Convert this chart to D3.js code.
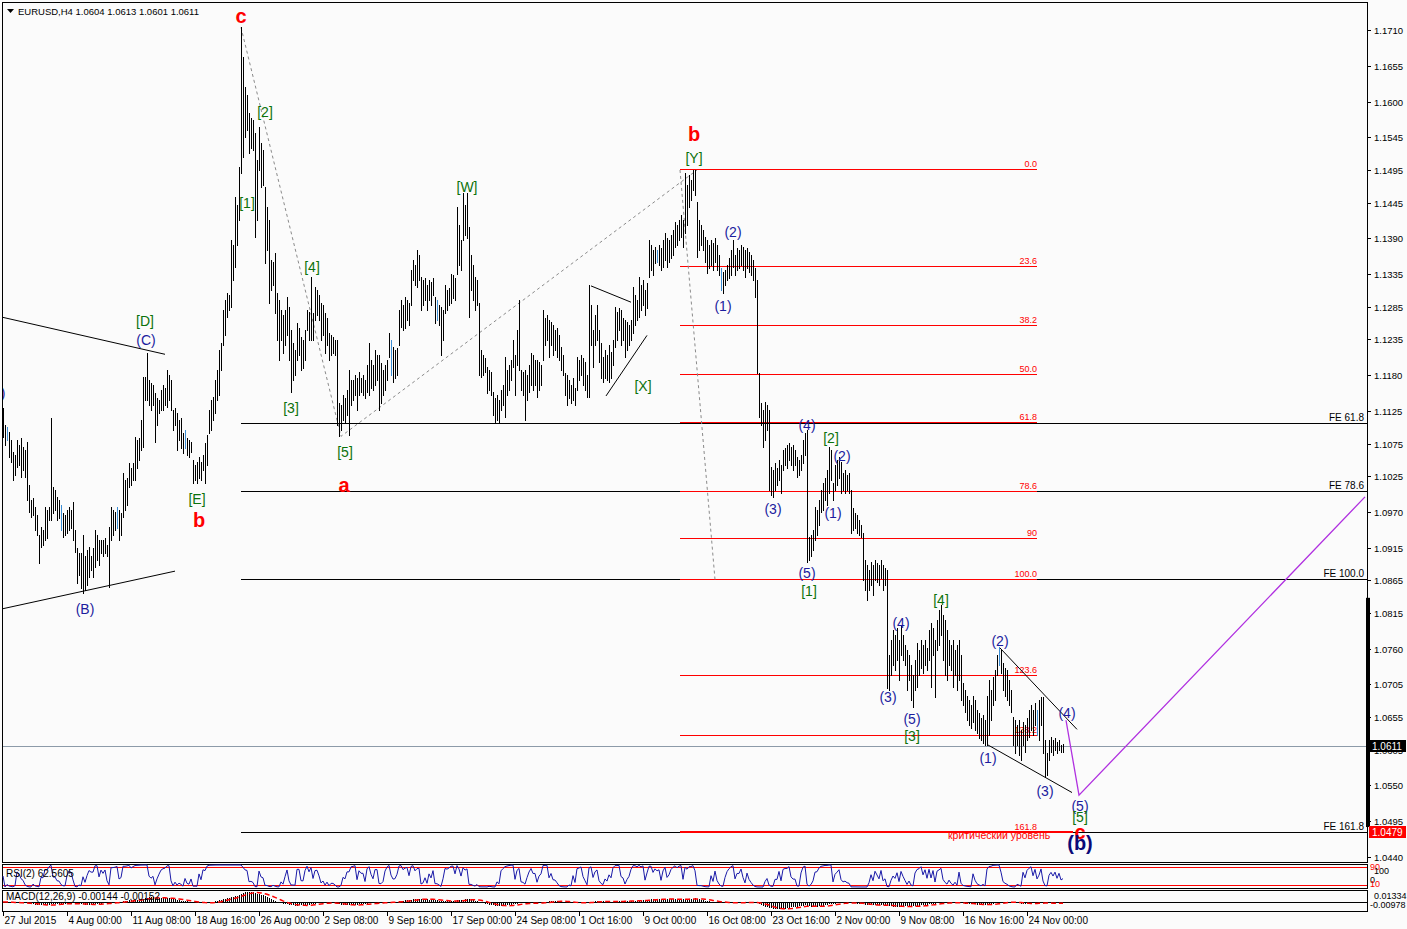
<!DOCTYPE html>
<html><head><meta charset="utf-8"><title>EURUSD H4</title>
<script src="https://cdn.jsdelivr.net/npm/d3@7/dist/d3.min.js"></script>
<style>
html,body{margin:0;padding:0;background:#fbfbfb;}
svg{display:block;}
text{font-family:"Liberation Sans",Arial,sans-serif;}
</style></head><body>
<svg id="chart" width="1407" height="929"></svg>
<script>
// ---------- DATA ----------
const highs = [
1.1129,1.1103,1.1100,1.1092,1.1080,1.1062,1.1057,1.1080,1.1073,1.1083,
1.1069,1.1065,1.1077,1.1011,1.0988,1.0991,1.0977,1.0965,1.0934,1.0947,
1.0942,1.0977,1.0973,1.0977,1.1114,1.1008,1.1003,1.0993,1.0988,1.0980,
1.0968,1.0965,1.0973,1.0977,1.0973,1.0985,1.0942,1.0914,1.0907,1.0907,
1.0934,1.0903,1.0911,1.0916,1.0903,1.0914,1.0942,1.0934,1.0927,1.0927,
1.0927,1.0930,1.0919,1.0947,1.0977,1.0973,1.0970,1.0977,1.0973,1.0968,
1.1029,1.1019,1.1022,1.1045,1.1037,1.1045,1.1085,1.1080,1.1083,1.1111,
1.1177,1.1177,1.1214,1.1172,1.1168,1.1165,1.1152,1.1145,1.1142,1.1157,
1.1165,1.1160,1.1188,1.1180,1.1172,1.1126,1.1129,1.1122,1.1111,1.1114,
1.1091,1.1096,1.1083,1.1080,1.1077,1.1049,1.1042,1.1046,1.1054,1.1046,
1.1057,1.1076,1.1088,1.1126,1.1142,1.1146,1.1172,1.1188,1.1218,1.1229,
1.1280,1.1295,1.1306,1.1303,1.1387,1.1380,1.1453,1.1441,1.1499,1.1714,
1.1668,1.1622,1.1610,1.1582,1.1575,1.1572,1.1552,1.1510,1.1561,1.1536,
1.1526,1.1469,1.1438,1.1418,1.1357,1.1354,1.1367,1.1306,1.1295,1.1280,
1.1272,1.1280,1.1300,1.1284,1.1249,1.1229,1.1218,1.1260,1.1252,1.1238,
1.1234,1.1249,1.1280,1.1277,1.1331,1.1275,1.1315,1.1311,1.1303,1.1291,
1.1288,1.1275,1.1268,1.1245,1.1241,1.1238,1.1234,1.1234,1.1137,1.1134,
1.1149,1.1145,1.1157,1.1188,1.1172,1.1172,1.1180,1.1175,1.1185,1.1175,
1.1180,1.1172,1.1195,1.1229,1.1203,1.1195,1.1218,1.1211,1.1211,1.1198,
1.1188,1.1195,1.1203,1.1245,1.1234,1.1223,1.1218,1.1221,1.1280,1.1295,
1.1288,1.1300,1.1295,1.1291,1.1341,1.1357,1.1349,1.1372,1.1364,1.1331,
1.1326,1.1329,1.1318,1.1326,1.1323,1.1329,1.1300,1.1295,1.1288,1.1284,
1.1280,1.1318,1.1311,1.1314,1.1336,1.1334,1.1329,1.1438,1.1410,1.1387,
1.1460,1.1441,1.1460,1.1407,1.1364,1.1349,1.1331,1.1326,1.1291,1.1218,
1.1211,1.1206,1.1192,1.1188,1.1185,1.1154,1.1145,1.1149,1.1142,1.1157,
1.1165,1.1208,1.1188,1.1195,1.1203,1.1234,1.1211,1.1249,1.1295,1.1188,
1.1185,1.1188,1.1180,1.1195,1.1214,1.1211,1.1203,1.1203,1.1200,1.1195,
1.1280,1.1268,1.1272,1.1264,1.1261,1.1257,1.1249,1.1252,1.1241,1.1223,
1.1211,1.1183,1.1180,1.1172,1.1165,1.1175,1.1160,1.1208,1.1203,1.1211,
1.1206,1.1200,1.1180,1.1318,1.1288,1.1249,1.1272,1.1288,1.1249,1.1229,
1.1208,1.1218,1.1211,1.1226,1.1215,1.1234,1.1284,1.1277,1.1283,1.1280,
1.1268,1.1264,1.1261,1.1257,1.1264,1.1315,1.1303,1.1295,1.1331,1.1318,
1.1326,1.1311,1.1321,1.1387,1.1380,1.1372,1.1377,1.1372,1.1380,1.1375,
1.1387,1.1398,1.1390,1.1387,1.1395,1.1403,1.1415,1.1410,1.1418,1.1426,
1.1418,1.1490,1.1472,1.1487,1.1480,1.1495,1.1495,1.1446,1.1418,1.1410,
1.1403,1.1392,1.1387,1.1380,1.1387,1.1383,1.1390,1.1380,1.1364,1.1344,
1.1338,1.1341,1.1349,1.1360,1.1372,1.1387,1.1364,1.1375,1.1372,1.1380,
1.1377,1.1372,1.1375,1.1369,1.1364,1.1357,1.1344,1.1326,1.1183,1.1137,
1.1126,1.1139,1.1134,1.1126,1.1039,1.1034,1.1045,1.1037,1.1049,1.1042,
1.1065,1.1068,1.1073,1.1076,1.1069,1.1073,1.1065,1.1054,1.1049,1.1057,
1.1080,1.1091,1.1096,1.0931,1.0934,1.0942,1.0977,1.0973,1.0988,1.1003,
1.1014,1.1022,1.1034,1.1069,1.1065,1.1014,1.1042,1.1049,1.1054,1.1046,
1.1029,1.1034,1.1026,1.1029,1.1003,1.0976,1.0968,1.0965,1.0957,1.0950,
1.0937,1.0896,1.0888,1.0881,1.0893,1.0888,1.0896,1.0891,1.0888,1.0896,
1.0888,1.0884,1.0881,1.0750,1.0773,1.0788,1.0781,1.0791,1.0773,1.0796,
1.0781,1.0765,1.0758,1.0750,1.0735,1.0719,1.0742,1.0768,1.0758,1.0773,
1.0765,1.0773,1.0761,1.0788,1.0799,1.0791,1.0773,1.0804,1.0819,1.0827,
1.0811,1.0804,1.0788,1.0773,1.0765,1.0773,1.0758,1.0765,1.0773,1.0750,
1.0707,1.0696,1.0688,1.0681,1.0673,1.0688,1.0681,1.0665,1.0661,1.0653,
1.0658,1.0650,1.0688,1.0712,1.0696,1.0716,1.0727,1.0750,1.0762,1.0758,
1.0738,1.0730,1.0727,1.0712,1.0696,1.0655,1.0650,1.0642,1.0650,1.0635,
1.0647,1.0642,1.0653,1.0665,1.0673,1.0665,1.0676,1.0665,1.0681,1.0685,
1.0685,1.0619,1.0599,1.0619,1.0624,1.0619,1.0622,1.0616,1.0619,1.0612,
1.0613];
const lows = [
1.1085,1.1072,1.1080,1.1054,1.1046,1.1019,1.1026,1.1039,1.1042,1.1023,
1.1034,1.1023,1.0988,1.0970,1.0962,1.0965,1.0942,1.0934,1.0891,1.0916,
1.0919,1.0927,1.0930,1.0957,1.0957,1.0968,1.0973,1.0957,1.0960,1.0942,
1.0931,1.0934,1.0937,1.0942,1.0945,1.0927,1.0908,1.0861,1.0873,1.0853,
1.0845,1.0850,1.0857,1.0870,1.0881,1.0870,1.0885,1.0896,1.0888,1.0907,
1.0903,1.0907,1.0903,1.0854,1.0927,1.0934,1.0942,1.0945,1.0927,1.0934,
1.0962,1.0973,1.0980,1.1008,1.1011,1.1019,1.1019,1.1037,1.1049,1.1065,
1.1069,1.1142,1.1142,1.1134,1.1126,1.1134,1.1077,1.1103,1.1122,1.1126,
1.1126,1.1134,1.1131,1.1142,1.1126,1.1096,1.1103,1.1065,1.1080,1.1068,
1.1060,1.1068,1.1057,1.1054,1.1062,1.1014,1.1019,1.1014,1.1022,1.1019,
1.1034,1.1014,1.1042,1.1091,1.1096,1.1111,1.1122,1.1142,1.1149,1.1188,
1.1226,1.1241,1.1269,1.1280,1.1284,1.1326,1.1346,1.1380,1.1418,1.1490,
1.1515,1.1546,1.1556,1.1521,1.1529,1.1526,1.1392,1.1418,1.1495,1.1469,
1.1472,1.1352,1.1372,1.1291,1.1311,1.1318,1.1275,1.1234,1.1203,1.1234,
1.1214,1.1226,1.1241,1.1203,1.1154,1.1172,1.1180,1.1203,1.1211,1.1188,
1.1191,1.1203,1.1249,1.1234,1.1234,1.1234,1.1264,1.1272,1.1264,1.1234,
1.1241,1.1214,1.1226,1.1203,1.1211,1.1214,1.1211,1.1103,1.1086,1.1096,
1.1111,1.1108,1.1119,1.1088,1.1134,1.1142,1.1149,1.1126,1.1149,1.1154,
1.1149,1.1145,1.1154,1.1149,1.1160,1.1157,1.1165,1.1172,1.1126,1.1137,
1.1149,1.1157,1.1172,1.1208,1.1180,1.1169,1.1175,1.1180,1.1226,1.1254,
1.1249,1.1252,1.1264,1.1257,1.1288,1.1326,1.1318,1.1315,1.1326,1.1280,
1.1288,1.1295,1.1280,1.1295,1.1288,1.1303,1.1260,1.1264,1.1257,1.1211,
1.1234,1.1275,1.1280,1.1288,1.1291,1.1298,1.1295,1.1336,1.1349,1.1341,
1.1387,1.1395,1.1390,1.1269,1.1311,1.1295,1.1280,1.1288,1.1180,1.1177,
1.1180,1.1185,1.1152,1.1157,1.1149,1.1119,1.1106,1.1111,1.1106,1.1126,
1.1134,1.1116,1.1149,1.1157,1.1172,1.1192,1.1149,1.1195,1.1188,1.1157,
1.1149,1.1111,1.1142,1.1154,1.1165,1.1157,1.1165,1.1146,1.1157,1.1165,
1.1203,1.1226,1.1234,1.1208,1.1226,1.1211,1.1218,1.1208,1.1203,1.1188,
1.1180,1.1149,1.1134,1.1145,1.1137,1.1142,1.1134,1.1157,1.1172,1.1180,
1.1165,1.1157,1.1146,1.1146,1.1226,1.1192,1.1226,1.1234,1.1200,1.1175,
1.1169,1.1175,1.1172,1.1169,1.1175,1.1195,1.1223,1.1234,1.1249,1.1226,
1.1234,1.1208,1.1218,1.1226,1.1234,1.1245,1.1257,1.1264,1.1269,1.1280,
1.1288,1.1272,1.1283,1.1331,1.1341,1.1334,1.1352,1.1354,1.1349,1.1341,
1.1346,1.1357,1.1346,1.1354,1.1360,1.1364,1.1377,1.1380,1.1387,1.1392,
1.1377,1.1398,1.1410,1.1438,1.1449,1.1464,1.1456,1.1361,1.1372,1.1380,
1.1372,1.1354,1.1337,1.1344,1.1349,1.1341,1.1354,1.1341,1.1334,1.1311,
1.1306,1.1318,1.1326,1.1329,1.1334,1.1346,1.1334,1.1341,1.1344,1.1349,
1.1341,1.1331,1.1344,1.1338,1.1334,1.1326,1.1300,1.1183,1.1115,1.1103,
1.1069,1.1080,1.1096,1.1003,1.0996,1.0993,1.1003,1.1011,1.1019,1.0999,
1.1034,1.1042,1.1037,1.1049,1.1042,1.1034,1.1042,1.1023,1.1026,1.1034,
1.1045,1.1057,1.0893,1.0896,1.0903,1.0911,1.0927,1.0934,1.0950,1.0970,
1.0973,1.0988,1.0980,1.0999,1.1019,1.0988,1.1003,1.1011,1.1022,1.0999,
1.1003,1.0999,1.1003,1.0999,1.0937,1.0942,1.0945,1.0937,1.0934,1.0931,
1.0865,1.0850,1.0834,1.0850,1.0857,1.0842,1.0865,1.0862,1.0857,1.0868,
1.0850,1.0857,1.0699,1.0696,1.0719,1.0735,1.0727,1.0742,1.0712,1.0750,
1.0742,1.0735,1.0696,1.0712,1.0681,1.0670,1.0696,1.0701,1.0719,1.0730,
1.0722,1.0735,1.0727,1.0742,1.0701,1.0750,1.0685,1.0758,1.0765,1.0781,
1.0742,1.0719,1.0712,1.0735,1.0727,1.0701,1.0719,1.0696,1.0712,1.0681,
1.0673,1.0662,1.0650,1.0642,1.0638,1.0647,1.0635,1.0630,1.0622,1.0619,
1.0615,1.0612,1.0612,1.0627,1.0650,1.0673,1.0681,1.0719,1.0735,1.0722,
1.0696,1.0688,1.0681,1.0673,1.0662,1.0612,1.0599,1.0612,1.0596,1.0589,
1.0612,1.0601,1.0619,1.0624,1.0635,1.0627,1.0642,1.0627,1.0620,1.0642,
1.0599,1.0563,1.0566,1.0589,1.0601,1.0596,1.0604,1.0599,1.0604,1.0601,
1.0601];
const blueBars = [2,29,57,91,194,217,327,359,498,517];

const timeLabels = ["27 Jul 2015","4 Aug 00:00","11 Aug 08:00","18 Aug 16:00","26 Aug 00:00","2 Sep 08:00","9 Sep 16:00","17 Sep 00:00","24 Sep 08:00","1 Oct 16:00","9 Oct 00:00","16 Oct 08:00","23 Oct 16:00","2 Nov 00:00","9 Nov 08:00","16 Nov 16:00","24 Nov 00:00"];
const timeLabelBars = [0,32,64,96,128,160,192,224,256,288,320,352,384,416,448,480,512];
const priceTicks = [1.1710,1.1655,1.1600,1.1545,1.1495,1.1445,1.1390,1.1335,1.1285,1.1235,1.1180,1.1125,1.1075,1.1025,1.0970,1.0915,1.0865,1.0815,1.0760,1.0705,1.0655,1.0605,1.0550,1.0495,1.0440];

const header = "EURUSD,H4  1.0604 1.0613 1.0601 1.0611";
const lastPrice = 1.0611;
const criticalPrice = 1.0479;
const criticalText = "критический уровень";

// Fibonacci retracement: anchors [bar, price]
const fibAnchors = [[338.5, 1.1495],[356, 1.0866]];
const fibEndBar = 517;
const fibLevels = [0, 23.6, 38.2, 50, 61.8, 78.6, 90, 100, 123.6, 138.2, 161.8];
const fibLabels = ["0.0","23.6","38.2","50.0","61.8","78.6","90","100.0","123.6","138.2","161.8"];
// Fibonacci expansion: anchors A, B, C
const feAnchors = [[119, 1.1714],[169, 1.1086],[347, 1.1495]];
const feLevels = [61.8, 78.6, 100, 161.8];
const feLabels = ["FE 61.8","FE 78.6","FE 100.0","FE 161.8"];

// solid trend lines [[bar, price],[bar, price]]
const trendLines = [
  [[-0.5,1.1269],[81,1.1212]],
  [[-0.5,1.0821],[86,1.0879]],
  [[294,1.1317],[314,1.1292]],
  [[301.5,1.1148],[322,1.1241]],
  [[498.5,1.0761],[537,1.0636]],
  [[492.5,1.0612],[534.5,1.0539]]
];
const projection = [[531.5,1.0650],[538,1.0535],[681,1.0993]];

// wave labels: text, bar, price, style
const waveLabels = [
  ["c",119,1.1731,"R"],["[2]",131,1.1584,"G"],["[1]",122,1.1444,"G"],["[4]",154.5,1.1346,"G"],
  ["[3]",144,1.1129,"G"],["[5]",171,1.1062,"G"],["a",170.5,1.1011,"R"],["[W]",232,1.1469,"G"],
  ["b",345.5,1.1550,"R"],["[Y]",345.5,1.1513,"G"],["[X]",320,1.1163,"G"],["[D]",71,1.1263,"G"],
  ["(C)",71.5,1.1234,"B"],["(A)",-3.5,1.1152,"B"],["(B)",41,1.0821,"B"],["[E]",97,1.0990,"G"],
  ["b",98,1.0957,"R"],["(2)",365,1.1400,"B"],["(1)",360,1.1286,"B"],["(4)",402,1.1103,"B"],
  ["[2]",414,1.1083,"G"],["(2)",419.5,1.1056,"B"],["(3)",385,1.0974,"B"],["(1)",415,1.0968,"B"],
  ["(5)",402,1.0876,"B"],["[1]",403,1.0848,"G"],["[4]",469,1.0834,"G"],["(4)",449,1.0799,"B"],
  ["(3)",442.5,1.0685,"B"],["(5)",454.5,1.0652,"B"],["[3]",454.5,1.0626,"G"],["(2)",498.5,1.0772,"B"],
  ["(1)",492.5,1.0592,"B"],["(3)",521,1.0541,"B"],["(4)",532,1.0661,"B"],["(5)",538.5,1.0518,"B"],
  ["[5]",538.5,1.0501,"G"],["c",538.5,1.0478,"R"],["(b)",538.5,1.0461,"N"]
];

const rsiTitle = "RSI(2) 62.5605";
const macdTitle = "MACD(12,26,9) -0.00144 -0.00152";
const rsiLevels = [90, 10];
const macdRange = [-0.00978, 0.01334];

// ---------- LAYOUT ----------
const svg = d3.select("#chart");
const L = 2, R = 1367, T = 2, MB = 862;
const x = d3.scaleLinear().domain([0, 530]).range([3, 1063]);
const y = d3.scaleLinear().domain([1.0440, 1.1710]).range([857, 30]);
const px = v => Math.round(v) + 0.5;

svg.append("rect").attr("width",1407).attr("height",929).attr("fill","#fbfbfb");

const defs = svg.append("defs");
defs.append("clipPath").attr("id","mainClip").append("rect")
  .attr("x",L+1).attr("y",T+1).attr("width",R-L-1).attr("height",MB-T-1);

const main = svg.append("g").attr("clip-path","url(#mainClip)");

// FE lines (black)
const A = feAnchors[0][1], B = feAnchors[1][1], C = feAnchors[2][1];
feLevels.forEach((lv,k) => {
  const p = C - (A - B) * lv / 100;
  main.append("line").attr("x1", x(feAnchors[0][0])).attr("x2", R)
    .attr("y1", px(y(p))).attr("y2", px(y(p))).attr("stroke","#000").attr("stroke-width",1)
    .attr("shape-rendering","crispEdges");
  main.append("text").attr("x", R-3).attr("y", Math.round(y(p))-2).attr("text-anchor","end")
    .attr("font-size",10).attr("fill","#000").text(feLabels[k]);
});

// Fib retracement lines (red)
const f0 = fibAnchors[0][1], f1 = fibAnchors[1][1];
fibLevels.forEach((lv,k) => {
  const p = f0 + (f1 - f0) * lv / 100;
  main.append("line").attr("x1", x(fibAnchors[0][0])).attr("x2", x(fibEndBar))
    .attr("y1", px(y(p))-1).attr("y2", px(y(p))-1).attr("stroke","#ff0000").attr("stroke-width",1)
    .attr("shape-rendering","crispEdges");
  main.append("text").attr("x", x(fibEndBar)).attr("y", Math.round(y(p))-3).attr("text-anchor","end")
    .attr("font-size",9).attr("fill","#ff0000").text(fibLabels[k]);
});
// critical level
main.append("line").attr("x1", x(fibAnchors[0][0])).attr("x2", x(535))
  .attr("y1", Math.round(y(criticalPrice))).attr("y2", Math.round(y(criticalPrice)))
  .attr("stroke","#ff0000").attr("stroke-width",2).attr("shape-rendering","crispEdges");
main.append("text").attr("x", x(472.5)).attr("y", Math.round(y(criticalPrice))+7)
  .attr("font-size",10.5).attr("fill","#ff0000").text(criticalText);

// last price line
main.append("line").attr("x1",L).attr("x2",R).attr("y1",px(y(lastPrice))).attr("y2",px(y(lastPrice)))
  .attr("stroke","#8c9aa8").attr("stroke-width",1).attr("shape-rendering","crispEdges");

// dashed zigzag / fib diagonals
const lineGen = d3.line().x(d => x(d[0])).y(d => y(d[1]));
main.append("path").attr("d", lineGen(feAnchors)).attr("fill","none")
  .attr("stroke","#8a8a8a").attr("stroke-dasharray","3,3");
main.append("path").attr("d", lineGen(fibAnchors)).attr("fill","none")
  .attr("stroke","#8a8a8a").attr("stroke-dasharray","3,3");

// trend lines
trendLines.forEach(t => {
  main.append("path").attr("d", lineGen(t)).attr("fill","none").attr("stroke","#000").attr("stroke-width",1);
});
main.append("path").attr("d", lineGen(projection)).attr("fill","none").attr("stroke","#b030e0").attr("stroke-width",1.3);

// bars
const blueSet = new Set(blueBars);
main.append("g").selectAll("line").data(highs).join("line")
  .attr("x1",(d,i)=>px(x(i))).attr("x2",(d,i)=>px(x(i)))
  .attr("y1",d=>Math.round(y(d))).attr("y2",(d,i)=>Math.round(y(lows[i]))+1)
  .attr("stroke",(d,i)=>blueSet.has(i)?"#3d8ed4":"#000").attr("stroke-width",1)
  .attr("shape-rendering","crispEdges");

// wave labels
const styles = {
  R:{fill:"#ff0000",size:20,weight:"bold"},
  G:{fill:"#0b720b",size:14,weight:"normal"},
  B:{fill:"#1c1c9e",size:14,weight:"normal"},
  N:{fill:"#0a0a78",size:20,weight:"bold"}
};
main.append("g").selectAll("text").data(waveLabels).join("text")
  .attr("x",d=>x(d[1])).attr("y",d=>y(d[2]))
  .attr("text-anchor","middle").attr("dominant-baseline","central")
  .attr("fill",d=>styles[d[3]].fill).attr("font-size",d=>styles[d[3]].size)
  .attr("font-weight",d=>styles[d[3]].weight).text(d=>d[0]);

// header
svg.append("path").attr("d","M7,9 L14,9 L10.5,13 Z").attr("fill","#000");
svg.append("text").attr("x",18).attr("y",15).attr("font-size",9.5).attr("fill","#000").text(header);

// frames
const frame = (x1,y1,x2,y2) => svg.append("rect").attr("x",x1+0.5).attr("y",y1+0.5)
  .attr("width",x2-x1).attr("height",y2-y1).attr("fill","none").attr("stroke","#000")
  .attr("shape-rendering","crispEdges");
frame(L,T,R,MB);
frame(L,864,R,888);
frame(L,890,R,911);

// price axis
const ax = svg.append("g");
priceTicks.forEach(p => {
  const yy = px(y(p));
  ax.append("line").attr("x1",R).attr("x2",R+4).attr("y1",yy).attr("y2",yy).attr("stroke","#000")
    .attr("shape-rendering","crispEdges");
  ax.append("text").attr("x",R+7).attr("y",yy).attr("dominant-baseline","central")
    .attr("font-size",9.5).attr("fill","#000").text(p.toFixed(4));
});
// scroll marker on axis
ax.append("rect").attr("x",R-1).attr("width",4).attr("y",y(1.0838)).attr("height",y(1.0486)-y(1.0838)).attr("fill","#000");
// price boxes
const box = (p,bg) => {
  const yy = Math.round(y(p));
  ax.append("rect").attr("x",R+2).attr("y",yy-6).attr("width",37).attr("height",12).attr("fill",bg);
  ax.append("text").attr("x",R+5).attr("y",yy).attr("dominant-baseline","central")
    .attr("font-size",10).attr("fill","#fff").text(p.toFixed(4));
};
box(lastPrice,"#000");
box(criticalPrice,"#ff0000");

// time axis
timeLabelBars.forEach((b,k) => {
  const xx = px(x(b));
  svg.append("line").attr("x1",xx).attr("x2",xx).attr("y1",911).attr("y2",916).attr("stroke","#000")
    .attr("shape-rendering","crispEdges");
  svg.append("text").attr("x",xx+1).attr("y",924).attr("font-size",10).attr("fill","#000").text(timeLabels[k]);
});

// ---------- INDICATORS (computed from the price series) ----------
const closes = highs.map((h,i)=>(h+lows[i])/2);
function rsi(c,n){
  const out=[]; let ag=0, al=0;
  for(let i=0;i<c.length;i++){
    if(i===0){out.push(50);continue;}
    const d=c[i]-c[i-1], g=Math.max(d,0), l=Math.max(-d,0);
    if(i<=n){ag+=g/n; al+=l/n;} else {ag=(ag*(n-1)+g)/n; al=(al*(n-1)+l)/n;}
    out.push(al===0?100:100-100/(1+ag/al));
  }
  return out;
}
function ema(c,n){const k=2/(n+1);const o=[c[0]];for(let i=1;i<c.length;i++)o.push(c[i]*k+o[i-1]*(1-k));return o;}
function sma(c,n){return c.map((v,i)=>{const s=c.slice(Math.max(0,i-n+1),i+1);return d3.mean(s);});}
const rsiVals = rsi(closes,2);
const e12 = ema(closes,12), e26 = ema(closes,26);
const macd = e12.map((v,i)=>v-e26[i]);
const signal = sma(macd,9);

const yR = d3.scaleLinear().domain([0,100]).range([887,865]);
const yM = d3.scaleLinear().domain(macdRange).range([910,891]);

const sub = svg.append("g");
rsiLevels.forEach(lv => sub.append("line").attr("x1",L+1).attr("x2",R).attr("y1",px(yR(lv))).attr("y2",px(yR(lv)))
  .attr("stroke","#ff0000").attr("stroke-width",1.2).attr("shape-rendering","crispEdges"));
sub.append("path").attr("d", d3.line().x((d,i)=>x(i)).y(d=>yR(d))(rsiVals))
  .attr("fill","none").attr("stroke","#1a1aa8").attr("stroke-width",1);
sub.append("text").attr("x",6).attr("y",877).attr("font-size",10).attr("fill","#000").text(rsiTitle);

sub.append("line").attr("x1",L+1).attr("x2",R).attr("y1",px(yM(0))).attr("y2",px(yM(0))).attr("stroke","#000")
  .attr("shape-rendering","crispEdges");
sub.append("g").selectAll("line").data(macd).join("line")
  .attr("x1",(d,i)=>px(x(i))).attr("x2",(d,i)=>px(x(i)))
  .attr("y1",px(yM(0))).attr("y2",d=>yM(d)).attr("stroke","#000").attr("stroke-width",1)
  .attr("shape-rendering","crispEdges");
sub.append("path").attr("d", d3.line().x((d,i)=>x(i)).y(d=>yM(d))(signal))
  .attr("fill","none").attr("stroke","#ff0000").attr("stroke-width",1.5).attr("stroke-dasharray","5,3");
sub.append("text").attr("x",6).attr("y",900).attr("font-size",10).attr("fill","#000").text(macdTitle);

// sub axis labels
const sl = (t,xx,yy,c) => sub.append("text").attr("x",xx).attr("y",yy).attr("dominant-baseline","central")
  .attr("font-size",9).attr("fill",c).text(t);
sl("90",R+3,867,"#ff0000"); sl("100",R+7,871,"#000"); sl("0",R+3,880,"#000"); sl("10",R+3,884,"#ff0000");
sl("0.01334",R+7,896,"#000"); sl("-0.00978",R+3,905,"#000");
</script></body></html>
